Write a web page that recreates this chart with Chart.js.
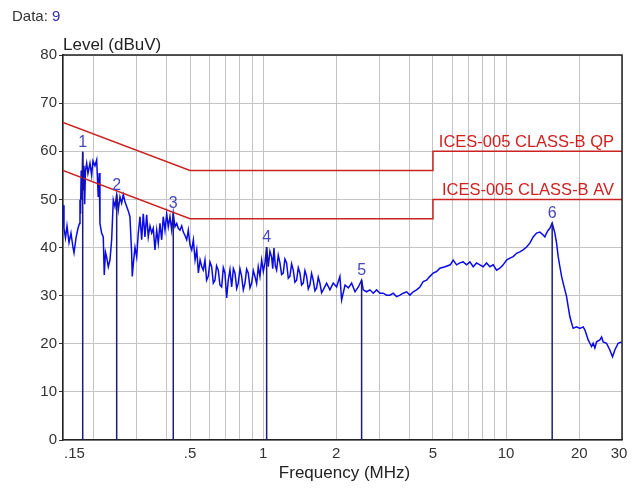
<!DOCTYPE html>
<html>
<head>
<meta charset="utf-8">
<script src="https://cdn.jsdelivr.net/npm/chart.js@4.4.1/dist/chart.umd.min.js"></script>
<style>
html,body{margin:0;padding:0;background:#fff;}
#wrap{width:637px;height:489px;}
</style>
</head>
<body>
<div id="wrap"><canvas id="c" width="637" height="489"></canvas></div>
<script>
// ---- data ----
const freqMHz = [0.150,0.1514,0.1536,0.1558,0.1588,0.1618,0.1649,0.1665,0.1697,0.1729,
0.1754,0.1762,0.1771,0.1782,0.1792,0.1808,0.1818,0.1830,0.1842,0.1856,
0.1877,0.1900,0.1937,0.1968,0.1993,0.2031,0.2064,0.2095,0.2115,0.2129,
0.2163,0.2197,0.2218,0.2244,0.2269,0.2304,0.2341,0.2379,0.2416,0.2455,
0.2495,0.2533,0.2574,0.2615,0.2656,0.2699,0.2743,0.2789,0.2829,0.2875,
0.2892,0.2926,0.2968,0.3016,0.3062,0.3112,0.3162,0.3210,0.3262,0.3315,
0.3366,0.3421,0.3477,0.3529,0.3587,0.3645,0.3701,0.3761,0.3822,0.3880,
0.3944,0.4008,0.4069,0.4135,0.4202,0.4266,0.4335,0.4406,0.4473,0.4546,
0.4620,0.4691,0.4768,0.4845,0.4919,0.4999,0.5081,0.5161,0.5245,0.5330,
0.5412,0.5500,0.5590,0.5669,
0.5761,0.5850,0.5944,0.6040,0.6138,0.6235,0.6334,0.6430,0.6535,0.6640,
0.6747,0.6855,0.6963,0.7076,0.7184,0.7300,0.7419,0.7540,0.7655,0.7780,
0.7899,0.8025,0.8155,0.8285,0.8415,0.8550,0.8683,0.8825,0.8967,0.9110,
0.9252,0.9400,0.9547,0.9700,0.9858,1.0015,1.0172,1.0337,1.0495,1.0660,
1.0838,1.0950,1.1077,1.1220,1.1363,1.1540,1.1723,1.1910,1.2097,1.2290,
1.2489,1.2690,1.2887,1.3095,1.3300,1.3515,1.3731,1.3950,1.4169,1.4395,
1.4622,1.4860,1.5097,1.5335,1.5576,1.5825,1.6075,1.6335,1.6596,1.6860,
1.7124,1.7400,1.7672,
1.8247,1.8827,1.9429,2.0060,2.0697,2.1037,2.1731,
2.2432,2.3131,2.3890,2.4653,2.5426,2.5816,2.6654,2.7519,2.8382,2.9308,
3.0239,3.1204,3.2219,3.3247,3.4305,3.5420,3.6551,3.7714,3.8939,4.0184,
4.1462,4.2809,4.4177,4.5585,4.7067,4.8569,5.0114,5.1743,5.3395,5.6082,
5.8903,6.0571,6.2545,6.4532,6.6590,6.8755,7.0959,7.3209,7.5588,7.7999,
8.0487,8.3109,8.5766,8.8485,9.1371,9.4279,9.7278,10.045,10.364,10.695,
11.044,11.395,11.757,12.140,12.528,12.927,13.349,13.773,14.211,14.441,
14.676,14.903,15.145,15.478,15.879,16.137,16.386,16.652,16.923,17.177,
17.458,17.741,18.012,18.306,18.604,18.884,19.500,20.121,20.760,21.097,
21.440,21.767,22.121,22.481,22.824,23.195,23.572,24.324,24.720,25.093,
25.909,26.736,27.427,28.031,28.917,29.89];
const levelDbuV = [48.8,44,42,44.5,41,43,40,38.9,42,44,
45,49.9,47,56,50,59.9,52,57,49,56,
57.5,55.4,57.5,55,58,57,58.2,50.5,55.5,45,
43,42.2,34.3,39,38,36,37.4,41.6,49.9,48.5,
51,47.8,50.5,49.2,51,49.5,48.5,47.5,46.4,38.8,
34,37,40,38,43,46.4,41.6,47,42.2,46.8,
42.2,44.5,43,44,39.5,43.6,40.9,45,41.6,46.4,
43.6,47,44.3,46.4,43.6,47.1,44.3,45,44,43.6,
44.5,43.2,42.5,41.6,43.6,40.5,39.5,41.6,37.4,39.5,
34.7,37.4,36,35.3,
37.4,33.2,34,37.0,36,32.6,33.2,36.2,35.3,32.2,
31.8,35.8,34.7,29.5,33.2,35.4,31.8,35.6,34.7,31.5,
32.6,35.6,34,31.2,32.6,35.5,34.7,31.6,32.6,35.2,
34,32.5,36,34.0,37.4,35.0,36.8,40.1,36,39.2,
38,35.6,39.9,36.2,35.3,38.4,36.8,34.4,34.7,37.6,
36.8,33.6,34,36.6,35.3,32.8,33.2,35.8,34.7,32.2,
32.6,35.2,34,31.4,32.2,34.6,33.2,31.0,31.6,33.8,
32.6,30.6,31.2,
32.6,31.2,32.6,31.8,34,29.1,32.2,
31.6,32.6,30.8,31.8,33.2,31.2,30.8,31.2,30.5,31.2,
30.5,30.5,30.1,30.1,30.5,29.8,30.1,30.5,30.8,30.1,
30.8,31.2,31.8,32.9,33.2,34,34.7,35,35.7,36,
36.4,37.4,36.4,36.8,37,36.4,37,36,36.8,36.4,
36,36.8,36,36.4,35.3,35.7,36.4,37.4,37.8,38.1,
38.8,39.1,39.5,40.1,40.9,42.2,43,43.2,42.6,42.2,
43,43.6,44,45.1,43,40.9,38.1,36,34,32.6,
31.2,29.8,27.7,25.6,24.3,23.2,23.5,23.2,23.5,22.9,
21.8,20.8,20.1,19.4,20.1,19.1,20.4,20.8,21.4,20.4,
20.1,18.7,17.3,18.7,20.1,20.4];

const qpFreq  = [0.15, 0.5, 5, 5, 30];
const qpLimit = [66, 56, 56, 60, 60];
const avFreq  = [0.15, 0.5, 5, 5, 30];
const avLimit = [56, 46, 46, 50, 50];
const qpLabel = "ICES-005 CLASS-B QP";
const avLabel = "ICES-005 CLASS-B AV";

const markerNo    = ["1","2","3","4","5","6"];
const markerFreq  = [0.1808, 0.2495, 0.4266, 1.0337, 2.5426, 15.478];
const markerLevel = [59.9, 51.0, 47.1, 40.1, 33.2, 45.1];

const xGridVals   = [0.15,0.2,0.3,0.4,0.5,0.6,0.7,0.8,0.9,1,2,3,4,5,6,7,8,9,10,20,30];
const xTickVals   = [0.15, 0.5, 1, 2, 5, 10, 20, 30];
const xTickLabels = [".15", ".5", "1", "2", "5", "10", "20", "30"];
const yMin = 0, yMax = 80, yStep = 10;
const dataCount = "9";

// ---- build datasets ----
const pts = (xs, ys) => xs.map((x, i) => ({x: x, y: ys[i]}));
const datasets = [];
markerFreq.forEach((f, i) => {
  datasets.push({data: [{x: f, y: 0}, {x: f, y: markerLevel[i]}], borderColor: '#1c1c78', borderWidth: 1.5, pointRadius: 0, tension: 0});
});
datasets.push({data: pts(qpFreq, qpLimit), borderColor: '#cc2222', borderWidth: 1.5, pointRadius: 0, tension: 0});
datasets.push({data: pts(avFreq, avLimit), borderColor: '#cc2222', borderWidth: 1.5, pointRadius: 0, tension: 0});
datasets.push({data: pts(freqMHz, levelDbuV), borderColor: '#0a0ae6', borderWidth: 1.5, pointRadius: 0, tension: 0});

const FONT = '"Liberation Sans", Arial, sans-serif';

const overlay = {
  id: 'overlay',
  afterDraw(chart) {
    const ctx = chart.ctx, a = chart.chartArea;
    const xs = chart.scales.x, ys = chart.scales.y;
    ctx.save();
    // frame top/right
    ctx.strokeStyle = '#222'; ctx.lineWidth = 1.5;
    ctx.beginPath();
    ctx.moveTo(a.left, a.top); ctx.lineTo(a.right, a.top); ctx.lineTo(a.right, a.bottom);
    ctx.stroke();
    // marker numbers
    ctx.font = '16px ' + FONT; ctx.fillStyle = '#4848b8';
    ctx.textAlign = 'center'; ctx.textBaseline = 'alphabetic';
    markerFreq.forEach((f, i) => {
      ctx.fillText(markerNo[i], xs.getPixelForValue(f), ys.getPixelForValue(markerLevel[i]) - 5);
    });
    // limit labels
    ctx.font = '16.5px ' + FONT; ctx.fillStyle = '#d02020'; ctx.textAlign = 'right';
    ctx.fillText(qpLabel, a.right - 8, ys.getPixelForValue(qpLimit[qpLimit.length-1]) - 4);
    ctx.fillText(avLabel, a.right - 8, ys.getPixelForValue(avLimit[avLimit.length-1]) - 4);
    // x tick labels
    ctx.font = '15px ' + FONT; ctx.fillStyle = '#333';
    xTickVals.forEach((v, i) => {
      let px = xs.getPixelForValue(v);
      if (i === 0) { ctx.textAlign = 'left'; px += 1; }
      else if (i === xTickVals.length - 1) { ctx.textAlign = 'center'; px -= 3; }
      else ctx.textAlign = 'center';
      ctx.fillText(xTickLabels[i], px, a.bottom + 18);
    });
    // axis titles
    ctx.font = '17px ' + FONT; ctx.fillStyle = '#222';
    ctx.textAlign = 'center';
    ctx.fillText('Frequency (MHz)', (a.left + a.right) / 2 + 2, 478);
    ctx.textAlign = 'left';
    ctx.fillText('Level (dBuV)', a.left, a.top - 5);
    // Data: 9
    ctx.font = '15px ' + FONT; ctx.fillStyle = '#333';
    ctx.fillText('Data: ', 12, 21);
    const w = ctx.measureText('Data: ').width;
    ctx.fillStyle = '#3030b0';
    ctx.fillText(dataCount, 12 + w, 21);
    ctx.restore();
  }
};

new Chart(document.getElementById('c'), {
  type: 'line',
  data: {datasets: datasets},
  options: {
    responsive: false,
    animation: false,
    devicePixelRatio: 1,
    layout: {padding: {top: 55, right: 15, left: 0, bottom: 0}},
    plugins: {legend: {display: false}, tooltip: {enabled: false}},
    scales: {
      x: {
        type: 'logarithmic', min: 0.15, max: 30,
        afterBuildTicks: s => { s.ticks = xGridVals.map(v => ({value: v})); },
        afterFit: s => { s.height = 49; },
        ticks: {display: false},
        grid: {color: '#c4c4c4', lineWidth: 1, drawTicks: false},
        border: {display: true, color: '#222', width: 1.5}
      },
      y: {
        min: yMin, max: yMax,
        afterFit: s => { s.width = 63; },
        ticks: {stepSize: yStep, color: '#333', font: {family: FONT, size: 15}, padding: 2},
        grid: {color: '#c4c4c4', lineWidth: 1, tickLength: 4, tickColor: '#333'},
        border: {display: true, color: '#222', width: 1.5}
      }
    }
  },
  plugins: [overlay]
});
</script>
</body>
</html>
